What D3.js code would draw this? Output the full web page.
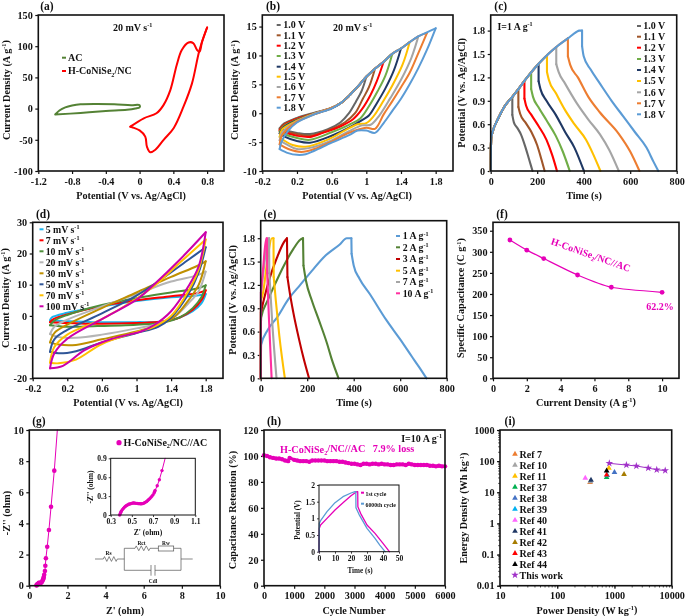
<!DOCTYPE html>
<html><head><meta charset="utf-8">
<script src="https://cdn.jsdelivr.net/npm/d3@7"></script>
<style>
html,body{margin:0;padding:0;background:#fff;overflow:hidden}
svg{display:block;filter:blur(0.45px)}
text{font-family:"Liberation Serif",serif;font-weight:bold;fill:#111}
</style></head><body>
<script>
// ---------- panel (a)
const acLoop=[[-1,-9.5],[-0.95,-3],[-0.88,2],[-0.8,5],[-0.7,7],[-0.5,7.5],[-0.3,7],[-0.1,5.5],[0,5.5],[0,2],[-0.05,0],[-0.15,-2],[-0.4,-4],[-0.7,-7],[-1,-9.5]];
const hybridLoop=[[-0.11,-29],[0.05,-15.5],[0.2,-7.5],[0.285,6],[0.365,30],[0.44,70],[0.5,94],[0.58,106],[0.635,105],[0.68,94],[0.71,91],[0.74,107],[0.8,130],[0.71,94],[0.62,40],[0.52,3],[0.405,-31],[0.285,-50],[0.187,-66],[0.127,-70],[0.087,-61],[0.067,-45],[0,-35],[-0.11,-29]];
// ---------- panel (b)
const windowLabels=["1.0 V","1.1 V","1.2 V","1.3 V","1.4 V","1.5 V","1.6 V","1.7 V","1.8 V"];
const windowColors=["#666666","#A0562A","#FF0000","#70AD47","#1F3864","#FFC000","#A5A5A5","#ED7D31","#5B9BD5"];
const cvW10=[[0,-2.6],[0.05,-1.8],[0.2,-0.8],[0.4,0.1],[0.6,0.9],[0.7,1.7],[0.8,3],[0.9,4.6],[1,6.3],[0.95,4],[0.88,2],[0.8,0],[0.7,-1.6],[0.55,-2.8],[0.35,-3.6],[0.2,-3.4],[0.05,-2.9],[0,-2.6]];
const cvW11=[[0,-2.8],[0.05,-1.9],[0.2,-0.9],[0.4,0],[0.6,0.9],[0.7,1.7],[0.8,3],[0.9,4.6],[1,6.3],[1.1,7.7],[1.03,4.5],[0.96,2.5],[0.87,0],[0.75,-1.6],[0.55,-3],[0.35,-3.9],[0.2,-3.6],[0.05,-3.1],[0,-2.8]];
const cvW12=[[0,-3],[0.05,-2.1],[0.2,-1],[0.4,-0.1],[0.6,0.9],[0.7,1.7],[0.8,3],[0.9,4.6],[1,6.3],[1.1,7.7],[1.2,8.9],[1.12,5.5],[1.05,3.2],[0.95,0.7],[0.85,-1],[0.7,-2.3],[0.5,-3.4],[0.35,-4.1],[0.2,-3.9],[0.05,-3.3],[0,-3]];
const cvW13=[[0,-3.2],[0.05,-2.2],[0.2,-1.1],[0.4,-0.1],[0.6,0.9],[0.7,1.7],[0.8,3],[0.9,4.6],[1,6.3],[1.1,7.7],[1.2,8.9],[1.3,10.3],[1.22,6.5],[1.13,3.8],[1.03,1.2],[0.93,-0.9],[0.8,-2],[0.6,-3.3],[0.35,-4.6],[0.2,-4.3],[0.05,-3.6],[0,-3.2]];
const cvW14=[[0,-3.5],[0.05,-2.4],[0.2,-1.2],[0.4,-0.1],[0.6,0.9],[0.7,1.7],[0.8,3],[0.9,4.6],[1,6.3],[1.1,7.7],[1.2,8.9],[1.3,10.3],[1.4,11.2],[1.32,7.5],[1.22,4.3],[1.12,1.7],[1.03,-0.4],[0.96,-1.1],[0.8,-2.5],[0.6,-3.9],[0.35,-5.1],[0.2,-4.8],[0.05,-4],[0,-3.5]];
const cvW15=[[0,-4.1],[0.03,-2.8],[0.2,-1.3],[0.4,-0.1],[0.6,0.9],[0.7,1.7],[0.8,3],[0.9,4.6],[1,6.3],[1.1,7.7],[1.2,8.9],[1.3,10.3],[1.4,11.2],[1.5,12.3],[1.42,8.5],[1.3,4.8],[1.2,2.2],[1.08,-0.6],[1,-1.7],[0.9,-1.9],[0.75,-3],[0.55,-4.6],[0.3,-5.8],[0.15,-5.5],[0.05,-4.7],[0,-4.1]];
const cvW16=[[0,-4.7],[0.03,-3.3],[0.2,-1.4],[0.4,-0.1],[0.6,0.9],[0.7,1.7],[0.8,3],[0.9,4.6],[1,6.3],[1.1,7.7],[1.2,8.9],[1.3,10.3],[1.4,11.2],[1.5,12.3],[1.6,13.3],[1.52,9.6],[1.4,5.8],[1.28,2.7],[1.15,-0.4],[1.05,-2],[0.95,-2.1],[0.8,-3.1],[0.6,-4.7],[0.35,-6],[0.2,-6.2],[0.08,-5.4],[0,-4.7]];
const cvW17=[[0,-5.4],[0.02,-4],[0.1,-2.6],[0.2,-1.5],[0.4,-0.2],[0.6,0.9],[0.7,1.7],[0.8,3],[0.9,4.6],[1,6.3],[1.1,7.7],[1.2,8.9],[1.3,10.3],[1.4,11.2],[1.5,12.3],[1.6,13.3],[1.7,13.9],[1.6,10.4],[1.5,7],[1.4,4.5],[1.3,2.1],[1.2,-0.2],[1.1,-2.7],[1,-2.5],[0.8,-3.4],[0.6,-4.9],[0.4,-6.2],[0.25,-6.7],[0.1,-6.2],[0,-5.4]];
const cvW18=[[0,-6.2],[0.02,-5],[0.1,-3],[0.2,-1.6],[0.4,-0.2],[0.6,0.8],[0.7,1.7],[0.8,3],[0.9,4.6],[1,6.3],[1.1,7.7],[1.2,8.9],[1.3,10.3],[1.4,11.2],[1.5,12.3],[1.6,13.3],[1.7,14],[1.8,14.7],[1.7,11],[1.6,7.8],[1.5,5],[1.4,2.5],[1.3,0.4],[1.2,-1.7],[1.1,-3.4],[1,-3],[0.9,-3],[0.8,-3.8],[0.6,-5.1],[0.4,-6.5],[0.3,-7.1],[0.2,-7.2],[0.1,-6.9],[0,-6.2]];
const cvWindowSeries=[cvW10,cvW11,cvW12,cvW13,cvW14,cvW15,cvW16,cvW17,cvW18];
// ---------- panel (c)
const chargeBase=[[0,0],[1,0.3],[2,0.42],[10,0.52],[30,0.66],[60,0.83],[93,0.95],[119,1.05],[145,1.155],[174,1.265],[206,1.375],[242,1.485],[282,1.59],[332,1.7],[370,1.785],[380,1.8],[393,1.8]];
const disW10=[[93,0.95],[93,0.72],[100,0.62],[115,0.55],[130,0.47],[150,0.3],[165,0.15],[180,0]];
const disW11=[[119,1.05],[119,0.82],[127,0.73],[150,0.62],[175,0.5],[200,0.33],[218,0.15],[232,0]];
const disW12=[[145,1.155],[145,0.93],[152,0.84],[175,0.72],[205,0.58],[240,0.4],[265,0.2],[285,0]];
const disW13=[[174,1.265],[174,1.05],[182,0.95],[205,0.82],[240,0.65],[280,0.45],[310,0.25],[340,0]];
const disW14=[[206,1.375],[206,1.15],[214,1.05],[240,0.9],[280,0.72],[320,0.5],[360,0.3],[401,0]];
const disW15=[[242,1.485],[242,1.27],[250,1.17],[280,1],[320,0.78],[360,0.6],[410,0.4],[440,0.22],[472,0]];
const disW16=[[282,1.59],[282,1.37],[292,1.27],[320,1.12],[370,0.87],[420,0.66],[470,0.47],[510,0.27],[551,0]];
const disW17=[[332,1.7],[332,1.47],[342,1.36],[375,1.2],[420,0.95],[470,0.75],[550,0.48],[600,0.25],[640,0]];
const disW18=[[393,1.8],[393,1.6],[400,1.47],[430,1.3],[470,1.12],[520,0.9],[570,0.7],[620,0.5],[670,0.3],[700,0.12],[721,0]];
const gcdWindowSeries=[disW10,disW11,disW12,disW13,disW14,disW15,disW16,disW17,disW18];
// ---------- panel (d)
const rateLabels=["5 mV s^[-1]","7 mV s^[-1]","10 mV s^[-1]","20 mV s^[-1]","30 mV s^[-1]","50 mV s^[-1]","70 mV s^[-1]","100 mV s^[-1]"];
const rateColors=["#19B5F0","#FF0000","#4E8F3A","#B5B5B5","#BF9000","#2F5597","#FFC000","#CC00AA"];
const cvR5=[[0,-1.5],[0.02,-0.5],[0.2,1],[0.6,3],[1,4.8],[1.4,6],[1.7,6.5],[1.8,7],[1.75,4],[1.65,1.5],[1.5,-0.5],[1.3,-1.8],[1,-2],[0.5,-2],[0,-1.5]];
const cvR7=[[0,-2],[0.04,-1],[0.2,0.5],[0.6,3.2],[1,5],[1.4,6.3],[1.7,7.3],[1.8,8.2],[1.75,5],[1.65,2],[1.5,-0.5],[1.3,-1.8],[1,-2.3],[0.5,-2.5],[0,-2]];
const cvR10=[[0,-3],[0.05,-1.5],[0.2,0.3],[0.6,3.5],[1,5.7],[1.4,7.5],[1.7,8.8],[1.8,9.8],[1.75,6],[1.65,2.5],[1.5,-0.5],[1.3,-2.2],[1,-2.8],[0.5,-3.3],[0.2,-3.5],[0,-3]];
const cvR20=[[0,-5.8],[0.05,-3.5],[0.2,-1.2],[0.6,3],[1,7],[1.4,11],[1.7,13],[1.8,14.2],[1.72,8],[1.6,4],[1.45,0],[1.25,-2.5],[1,-4],[0.6,-6],[0.3,-7],[0.1,-6.8],[0,-5.8]];
const cvR30=[[0,-8.5],[0.05,-5.5],[0.2,-2.8],[0.6,2.5],[1,7.5],[1.4,12.5],[1.7,16],[1.8,17.5],[1.72,10],[1.6,5],[1.45,0],[1.25,-3],[1,-5],[0.6,-7.5],[0.3,-9.3],[0.1,-9.2],[0,-8.5]];
const cvR50=[[0,-11.5],[0.05,-7.5],[0.2,-4.5],[0.6,0.8],[1,6.5],[1.3,12],[1.6,18],[1.8,22],[1.72,14],[1.6,7],[1.4,-0.5],[1.25,-3.5],[1,-5.5],[0.6,-8.5],[0.3,-11.3],[0.1,-12],[0,-11.5]];
const cvR70=[[0,-15],[0.05,-10],[0.2,-6],[0.6,-1],[1,5.5],[1.2,9.5],[1.5,17],[1.8,24.5],[1.72,15],[1.6,8],[1.4,0],[1.2,-3.5],[1,-5.2],[0.6,-9],[0.3,-14],[0.1,-15.2],[0,-15]];
const cvR100=[[0,-16.8],[0.05,-12],[0.2,-7.3],[0.6,-1],[1,5.2],[1.2,10],[1.5,18],[1.8,26.8],[1.72,16],[1.6,9.5],[1.4,1.5],[1.2,-3],[1.05,-5],[1,-5.4],[0.7,-7.5],[0.4,-11],[0.15,-16],[0,-16.8]];
const cvRateSeries=[cvR5,cvR7,cvR10,cvR20,cvR30,cvR50,cvR70,cvR100];
// ---------- panel (e)
const currentLabels=["1 A g^[-1]","2 A g^[-1]","3 A g^[-1]","5 A g^[-1]","7 A g^[-1]","10 A g^[-1]"];
const currentColors=["#5B9BD5","#548235","#C00000","#FFC000","#A5A5A5","#FF2FA0"];
const gcdA1=[[0,0],[1,0.3],[2,0.43],[30,0.62],[70,0.78],[120,1.02],[170,1.2],[220,1.38],[280,1.58],[340,1.72],[370,1.8],[390,1.8],[391,1.6],[400,1.45],[425,1.28],[470,1.08],[540,0.75],[600,0.5],[650,0.28],[680,0.15],[713,0]];
const gcdA2=[[0,0],[1,0.7],[2,0.78],[30,1],[60,1.2],[100,1.45],[140,1.66],[170,1.78],[182,1.8],[184,1.45],[195,1.25],[220,1],[250,0.75],[285,0.45],[305,0.25],[335,0]];
const gcdA3=[[0,0],[1,0.85],[15,1.03],[40,1.3],[70,1.55],[100,1.75],[113,1.8],[115,1.3],[125,1.1],[140,0.85],[165,0.5],[185,0.25],[208,0]];
const gcdA5=[[0,0],[1,1],[10,1.1],[30,1.55],[48,1.8],[55,1.8],[56,1.3],[65,1],[80,0.55],[104,0]];
const gcdA7=[[0,0],[1,1.1],[15,1.45],[30,1.78],[36,1.8],[37,1.35],[50,0.7],[68,0]];
const gcdA10=[[0,0],[1,1.1],[10,1.4],[24,1.8],[27,1.8],[28,1.35],[35,0.8],[47,0]];
const gcdCurrentSeries=[gcdA1,gcdA2,gcdA3,gcdA5,gcdA7,gcdA10];
// ---------- panel (f)
const densities=[1,2,3,5,7,10];
const capacitance=[328,304,284,245,216,204];
// ---------- panel (g)
const nyquist=[[0.38,0.02],[0.39,0.05],[0.41,0.08],[0.45,0.13],[0.5,0.18],[0.55,0.19],[0.6,0.18],[0.65,0.22],[0.7,0.33],[0.72,0.4],[0.74,0.47],[0.76,0.56],[0.78,0.7],[0.82,0.94],[0.84,1.28],[0.87,1.76],[0.94,2.5],[1.03,3.58],[1.14,5.07],[1.31,7.39]];
const nyquistTail=[[1.31,7.39],[1.47,10]];
const nyquistZoom=[[0.385,0],[0.39,0.02],[0.395,0.04],[0.4,0.06],[0.41,0.085],[0.42,0.105],[0.43,0.125],[0.44,0.14],[0.45,0.15],[0.46,0.16],[0.47,0.17],[0.48,0.175],[0.49,0.18],[0.5,0.185],[0.51,0.19],[0.52,0.19],[0.53,0.188],[0.54,0.185],[0.55,0.185],[0.56,0.18],[0.57,0.18],[0.58,0.178],[0.59,0.178],[0.6,0.18],[0.61,0.185],[0.62,0.195],[0.63,0.205],[0.64,0.215],[0.65,0.23],[0.66,0.245],[0.67,0.26],[0.68,0.28],[0.69,0.3],[0.7,0.32],[0.71,0.35],[0.715,0.37],[0.72,0.39],[0.74,0.465],[0.76,0.56],[0.785,0.705]];
const nyquistZoomTail=[[0.785,0.705],[0.815,0.9]];
// ---------- panel (h)
const cycles=[0,100,200,300,400,500,600,700,800,850,1000,1100,1200,1300,1400,1500,1600,1700,1800,1900,2000,2100,2200,2300,2400,2500,2600,2700,2800,2900,3000,3100,3200,3300,3400,3500,3600,3700,3800,3900,4000,4100,4200,4300,4400,4500,4600,4700,4800,4900,5000,5100,5200,5300,5400,5500,5600,5700,5800,5900,6000];
const retention=[100.5,100,99,98.5,98,98,97.5,96.5,96,98.5,97,96.5,96,96,96,95.5,96.5,96.5,96.5,96.5,96.5,96,96,96,96,95.5,95.5,95,94.5,94,94,93.5,93,94,94,93.5,94,94,93.5,94,93.5,93.5,93,93,93.5,93.5,93.5,93,94,93.5,93,93,93,93,93,92.5,92.5,92,92.5,92,92];
const firstCycle=[[0,0],[0.2,0.7],[1,0.8],[5,1],[10,1.25],[15,1.47],[20,1.68],[23.5,1.8],[24.2,1.8],[24.3,1.35],[26,1.15],[30,0.8],[35,0.55],[40,0.25],[44,0]];
const lastCycle=[[0,0],[0.2,0.85],[1,0.93],[5,1.2],[10,1.47],[15,1.65],[20,1.76],[22.5,1.8],[23,1.8],[23.1,1.32],[25,1.12],[30,0.7],[35,0.4],[38,0.2],[41.3,0]];
// ---------- panel (i)
const refNames=["Ref 7","Ref 10","Ref 11","Ref 37","Ref 38","Ref 39","Ref 40","Ref 41","Ref 42","Ref 43","Ref 44"];
const refColors=["#ED7D31","#A5A5A5","#FFC000","#00B050","#4472C4","#00B0F0","#FF66FF","#203864","#A67C00","#FF0000","#000000"];
const refPower=[374,380,800,730,1000,750,309,389,1470,730,730];
const refEnergy=[20.8,22,60,30,44,35,28.7,24.8,37.7,36,49];
const thisPower=[813,1614,2410,3890,5480,7700];
const thisEnergy=[85,75,70,60,53,50];

const MAGENTA="#E600B8";
const svg=d3.select("body").append("svg").attr("width",685).attr("height",616);
svg.append("rect").attr("width",685).attr("height",616).attr("fill","#fff");

// text helper: ^[..] superscript, _[..] subscript
function rich(node,str){
  const parts=str.split(/([\^_]\[[^\]]*\])/).filter(s=>s.length);
  parts.forEach((p,i)=>{
    const m=p.match(/^([\^_])\[(.*)\]$/);
    const t=node.append("tspan");
    if(m){
      const sup=m[1]==="^";
      t.text(m[2]).attr("font-size","0.62em").attr("dy",sup?"-0.55em":"0.35em");
      const nxt=parts[i+1];
      if(nxt!==undefined) node.append("tspan").attr("dy",sup?"0.34em":"-0.22em").text(nxt.match(/^[\^_]\[/)?"":nxt),parts[i+1]="";
    } else if(p) t.text(p);
  });
  return node;
}
function label(x,y,str,size,opt={}){
  const t=svg.append("text").attr("x",x).attr("y",y).attr("font-size",size)
    .attr("text-anchor",opt.anchor||"start").attr("fill",opt.fill||"#111").style("fill",opt.fill||"#111");
  if(opt.rotate!==undefined) t.attr("transform",`rotate(${opt.rotate},${x},${y})`);
  return rich(t,str);
}
function panel(c){
  const x=(c.xlog?d3.scaleLog():d3.scaleLinear()).domain(c.xd).range([c.x0,c.x1]);
  const y=(c.ylog?d3.scaleLog():d3.scaleLinear()).domain(c.yd).range([c.y1,c.y0]);
  const g=svg.append("g");
  const sz=c.small?7.6:10.2;
  const ax=d3.axisBottom(x).tickValues(c.xt).tickSize(c.small?2:3).tickPadding(c.small?2:3.5).tickFormat(d=>String(d));
  const ay=d3.axisLeft(y).tickValues(c.yt).tickSize(c.small?2:3).tickPadding(c.small?2:2.5).tickFormat(d=>String(d));
  const gx=g.append("g").attr("transform",`translate(0,${c.y1})`).call(ax);
  const gy=g.append("g").attr("transform",`translate(${c.x0},0)`).call(ay);
  [gx,gy].forEach(s=>{
    s.select(".domain").remove();
    s.selectAll("line").attr("stroke","#111").attr("stroke-width",c.small?0.8:1.2);
    s.selectAll("text").attr("font-size",sz).attr("font-family",'"Liberation Serif",serif');
  });
  if(c.xlog){
    g.append("g").attr("transform",`translate(0,${c.y1})`).call(d3.axisBottom(x).tickSize(1.8).tickFormat("")).call(s=>s.select(".domain").remove()).selectAll("line").attr("stroke-width",0.7);
    g.append("g").attr("transform",`translate(${c.x0},0)`).call(d3.axisLeft(y).tickSize(1.8).tickFormat("")).call(s=>s.select(".domain").remove()).selectAll("line").attr("stroke-width",0.7);
  }
  const plot=svg.append("g");
  svg.append("rect").attr("x",c.x0).attr("y",c.y0).attr("width",c.x1-c.x0).attr("height",c.y1-c.y0)
    .attr("fill","none").attr("stroke","#111").attr("stroke-width",c.small?1:1.6);
  const line=(data,color,w=2,curve=d3.curveCatmullRom.alpha(0.5))=>plot.append("path").datum(data)
    .attr("d",d3.line().x(d=>x(d[0])).y(d=>y(d[1])).curve(curve)).attr("fill","none")
    .attr("stroke",color).attr("stroke-width",w).attr("stroke-linejoin","round").attr("stroke-linecap","round");
  const dots=(data,color,r)=>plot.selectAll(null).data(data).join("circle")
    .attr("cx",d=>x(d[0])).attr("cy",d=>y(d[1])).attr("r",r).attr("fill",color);
  // closed CV loop: the two branches meet in sharp tips
  const loop=(data,color)=>{
    const tip=d3.maxIndex(data,d=>d[0]);
    line(data.slice(0,tip+1),color);line(data.slice(tip),color);
  };
  // charge/discharge trace: near-vertical jumps stay straight, the rest is smooth
  const trace=(data,color,w=2.1)=>{
    let run=[data[0]];
    for(let i=1;i<data.length;i++){
      const jump=data[i][0]-data[i-1][0]<=2&&Math.abs(data[i][1]-data[i-1][1])>0.15;
      if(jump){
        if(run.length>1) line(run,color,w,d3.curveMonotoneX);
        line([data[i-1],data[i]],color,w,d3.curveLinear);
        run=[data[i]];
      } else run.push(data[i]);
    }
    if(run.length>1) line(run,color,w,d3.curveMonotoneX);
  };
  if(c.xtitle) label(c.xtx,c.xty,c.xtitle,c.tsz||10.2,{anchor:"middle"});
  if(c.ytitle) label(c.ytx,c.yty,c.ytitle,c.tsz||10.2,{anchor:"middle",rotate:-90});
  return {x,y,line,dots,plot,loop,trace};
}
function legend(items,colors,xd,xt,ys,size,w=4){
  items.forEach((s,i)=>{
    svg.append("line").attr("x1",xd).attr("x2",xd+w).attr("y1",ys[i]).attr("y2",ys[i]).attr("stroke",colors[i]).attr("stroke-width",2);
    label(xt,ys[i]+3.4,s,size);
  });
}
const panelTag=(s,x,y)=>label(x,y,s,11.5,{anchor:"middle"});

// (a)
const pa=panel({x0:38.3,x1:224,y0:15,y1:171,xd:[-1.2,1],yd:[-100,150],xt:[-1.2,-0.8,-0.4,0,0.4,0.8],yt:[-100,-50,0,50,100,150],
  xtitle:"Potential (V vs. Ag/AgCl)",xtx:131,xty:198.5,ytitle:"Current Density (A g^[-1])",ytx:9.5,yty:90});
pa.line(acLoop,"#548235");pa.loop(hybridLoop,"#FF0000");
panelTag("(a)",47,10);
label(113,30.5,"20 mV s^[-1]",10);
legend(["AC","H-CoNiSe_[2]/NC"],["#548235","#FF0000"],62,68,[57.7,71],10);

// (b)
const pb=panel({x0:262.3,x1:453,y0:15,y1:171,xd:[-0.2,2],yd:[-10,17],xt:[-0.2,0.2,0.6,1,1.4,1.8],yt:[-10,-5,0,5,10,15],
  xtitle:"Potential (V vs. Ag/AgCl)",xtx:357,xty:198.5,ytitle:"Current Density (A g^[-1])",ytx:238,yty:90});
cvWindowSeries.forEach((s,i)=>pb.loop(s,windowColors[i]));
panelTag("(b)",273,10);
label(333,30.5,"20 mV s^[-1]",10);
legend(windowLabels,windowColors,276.7,283.3,[25,35.3,45.7,56,66.7,76.7,87,97.3,107.7],10);

// (c)
const pc=panel({x0:490.7,x1:676.7,y0:15,y1:171,xd:[0,800],yd:[0,2],xt:[0,200,400,600,800],yt:[0,0.3,0.6,0.9,1.2,1.5,1.8],
  xtitle:"Time (s)",xtx:584,xty:198.5,ytitle:"Potential (V vs. Ag/AgCl)",ytx:465,yty:93});
gcdWindowSeries.forEach((s,i)=>{
  const tip=s[0][0];
  pc.trace(chargeBase.filter(d=>d[0]<=tip),windowColors[i]);
  pc.trace(s,windowColors[i]);
});
panelTag("(c)",500.7,10);
label(497.5,29.5,"I=1 A g^[-1]",9.8);
legend(windowLabels,windowColors,637,643.3,[26,36.7,47.7,59,70,81,92.3,103.3,114.3],10);

// (d)
const pd=panel({x0:32.7,x1:223,y0:222.3,y1:378.3,xd:[-0.2,2],yd:[-20,30],xt:[-0.2,0.2,0.6,1,1.4,1.8],yt:[-20,-10,0,10,20,30],
  xtitle:"Potential (V vs. Ag/AgCl)",xtx:128,xty:405.5,ytitle:"Current Density (A g^[-1])",ytx:8.5,yty:298});
cvRateSeries.forEach((s,i)=>pd.loop(s,rateColors[i]));
panelTag("(d)",43,218);
legend(rateLabels,rateColors,39.5,45.7,[229.3,240.3,251.3,262.3,273.3,284.3,295.3,306.3],9.8);

// (e)
const pe=panel({x0:260.7,x1:446.7,y0:220.7,y1:378.3,xd:[0,800],yd:[0,2.025],xt:[0,200,400,600,800],yt:[0,0.3,0.6,0.9,1.2,1.5,1.8],
  xtitle:"Time (s)",xtx:354,xty:405.5,ytitle:"Potential (V vs. Ag/AgCl)",ytx:236,yty:300});
gcdCurrentSeries.forEach((s,i)=>pe.trace(s,currentColors[i]));
panelTag("(e)",270,218);
legend(currentLabels,currentColors,396,402.7,[236,247.3,259,270.7,282,293.3],9.8);

// (f)
const pf=panel({x0:493,x1:679,y0:222.3,y1:378.3,xd:[0,11],yd:[0,370],xt:[0,2,4,6,8,10],yt:[0,50,100,150,200,250,300,350],
  xtitle:"Current Density (A g^[-1])",xtx:586,xty:405.5,ytitle:"Specific Capacitance (C g^[-1])",ytx:464,yty:298});
const fpts=densities.map((d,i)=>[d,capacitance[i]]);
pf.line(fpts,MAGENTA,1.2,d3.curveCardinal.tension(0.3));pf.dots(fpts,MAGENTA,2.4);
panelTag("(f)",502,218);
label(589.7,258,"H-CoNiSe_[2]/NC//AC",10,{anchor:"middle",rotate:19.4,fill:MAGENTA});
label(660,309.5,"62.2%",10,{anchor:"middle",fill:MAGENTA});

// (g)
const pg=panel({x0:29.3,x1:220,y0:430,y1:585.7,xd:[0,10],yd:[0,10],xt:[0,2,4,6,8,10],yt:[0,2,4,6,8,10],
  xtitle:"Z' (ohm)",xtx:125,xty:613.5,ytitle:"-Z'' (ohm)",ytx:10,yty:513});
pg.line(nyquist,MAGENTA,1,d3.curveLinear);pg.line(nyquistTail,MAGENTA,1,d3.curveLinear);pg.dots(nyquist,MAGENTA,2.3);
panelTag("(g)",39,425);
pg.plot.append("circle").attr("cx",119).attr("cy",442.7).attr("r",2.6).attr("fill",MAGENTA);
label(123.5,446.2,"H-CoNiSe_[2]/NC//AC",10);
const pg2=panel({small:true,x0:110.7,x1:195.3,y0:458.3,y1:515,xd:[0.3,1.1],yd:[0,0.9],xt:[0.3,0.5,0.7,0.9,1.1],yt:[0,0.3,0.6,0.9],
  xtitle:"Z' (ohm)",xtx:148,xty:534.5,ytitle:"-Z'' (ohm)",ytx:93,yty:487,tsz:7.6});
pg2.line(nyquistZoom,MAGENTA,1,d3.curveLinear);pg2.line(nyquistZoomTail,MAGENTA,1,d3.curveLinear);pg2.dots(nyquistZoom,MAGENTA,1.7);

// equivalent circuit (schematic)
const circuit=svg.append("g").attr("fill","none").attr("stroke","#555").attr("stroke-width",0.7);
const zig=(a,b,yy)=>{let s=`M${a},${yy}`;const n=6,st=(b-a)/n;for(let i=0;i<n;i++){s+=`L${a+st*(i+0.5)},${yy+(i%2?2.4:-2.4)}`;}return s+`L${b},${yy}`;};
[[95,559,103.3,559],[117.3,559,124.3,559],[124.3,548.3,124.3,570.3],[124.3,548.3,135,548.3],[150,548.3,158.3,548.3],[173.7,548.3,181,548.3],[181,548.3,181,570.3],[181,559,192.7,559],[124.3,570.3,151,570.3],[155,570.3,181,570.3],[151,565,151,575.7],[155,565,155,575.7]]
 .forEach(l=>circuit.append("line").attr("x1",l[0]).attr("y1",l[1]).attr("x2",l[2]).attr("y2",l[3]));
circuit.append("path").attr("d",zig(103.3,117.3,559));
circuit.append("path").attr("d",zig(135,150,548.3));
circuit.append("rect").attr("x",158.3).attr("y",546).attr("width",15.4).attr("height",5);
label(108.5,555,"Rs",5.4,{anchor:"middle"});
label(141.5,544.5,"Rct",5.4,{anchor:"middle"});
label(166,544.5,"Rw",5.4,{anchor:"middle"});
label(153,582.5,"Cdl",5.4,{anchor:"middle"});

// (h)
const ph=panel({x0:264,x1:445,y0:430,y1:585.7,xd:[0,6000],yd:[0,120],xt:[0,1000,2000,3000,4000,5000,6000],yt:[0,20,40,60,80,100,120],
  xtitle:"Cycle Number",xtx:354,xty:613.5,ytitle:"Capacitance Retention (%)",ytx:236,yty:510});
const hpts=cycles.map((c,i)=>[c,retention[i]]);
ph.line(hpts,MAGENTA,3.2,d3.curveLinear);ph.dots(hpts,MAGENTA,2.2);
panelTag("(h)",274,425);
label(442,441.5,"I=10 A g^[-1]",10,{anchor:"end"});
label(280,452.5,"H-CoNiSe_[2]/NC//AC   7.9% loss",10.2,{fill:MAGENTA}).style("white-space","pre");
const ph2=panel({small:true,x0:319,x1:399,y0:485,y1:551.7,xd:[0,50],yd:[0,2],xt:[0,10,20,30,40,50],yt:[0,0.5,1,1.5,2],
  xtitle:"Time (s)",xtx:360,xty:572.5,ytitle:"Potential (V)",ytx:299.5,yty:520,tsz:7.2});
ph2.line(firstCycle,MAGENTA,1.3,d3.curveLinear);ph2.line(lastCycle,"#5B9BD5",1.3,d3.curveLinear);
legend(["1st cycle","6000th cycle"],[MAGENTA,"#5B9BD5"],361,365.5,[492.7,503.7],5.8,3);

// (i)
const pi=panel({xlog:true,ylog:true,x0:500,x1:671.7,y0:430,y1:585.7,xd:[10,10000],yd:[0.01,1000],xt:[10,100,1000,10000],yt:[0.01,0.1,1,10,100,1000],
  xtitle:"Power Density (W kg^[-1])",xtx:587,xty:613.5,ytitle:"Energy Density (Wh kg^[-1])",ytx:467,yty:508});
const tri=d3.symbol().type(d3.symbolTriangle).size(14);
const star=d3.symbol().type(d3.symbolStar).size(18);
refNames.forEach((n,i)=>{
  pi.plot.append("path").attr("d",tri()).attr("fill",refColors[i]).attr("transform",`translate(${pi.x(refPower[i])},${pi.y(refEnergy[i])})`);
  svg.append("path").attr("d",tri()).attr("fill",refColors[i]).attr("transform",`translate(515,${454+i*11.03})`);
  label(519.5,457.5+i*11.03,n,10);
});
const ipts=thisPower.map((p,i)=>[p,thisEnergy[i]]);
pi.line(ipts,"#A030C8",1,d3.curveLinear);
pi.plot.selectAll(null).data(ipts).join("path").attr("d",star()).attr("fill","#A030C8")
  .attr("transform",d=>`translate(${pi.x(d[0])},${pi.y(d[1])})`);
svg.append("path").attr("d",star()).attr("fill","#A030C8").attr("transform","translate(515,575)");
label(519.5,578.5,"This work",10);
panelTag("(i)",510,425);
</script>
</body></html>
